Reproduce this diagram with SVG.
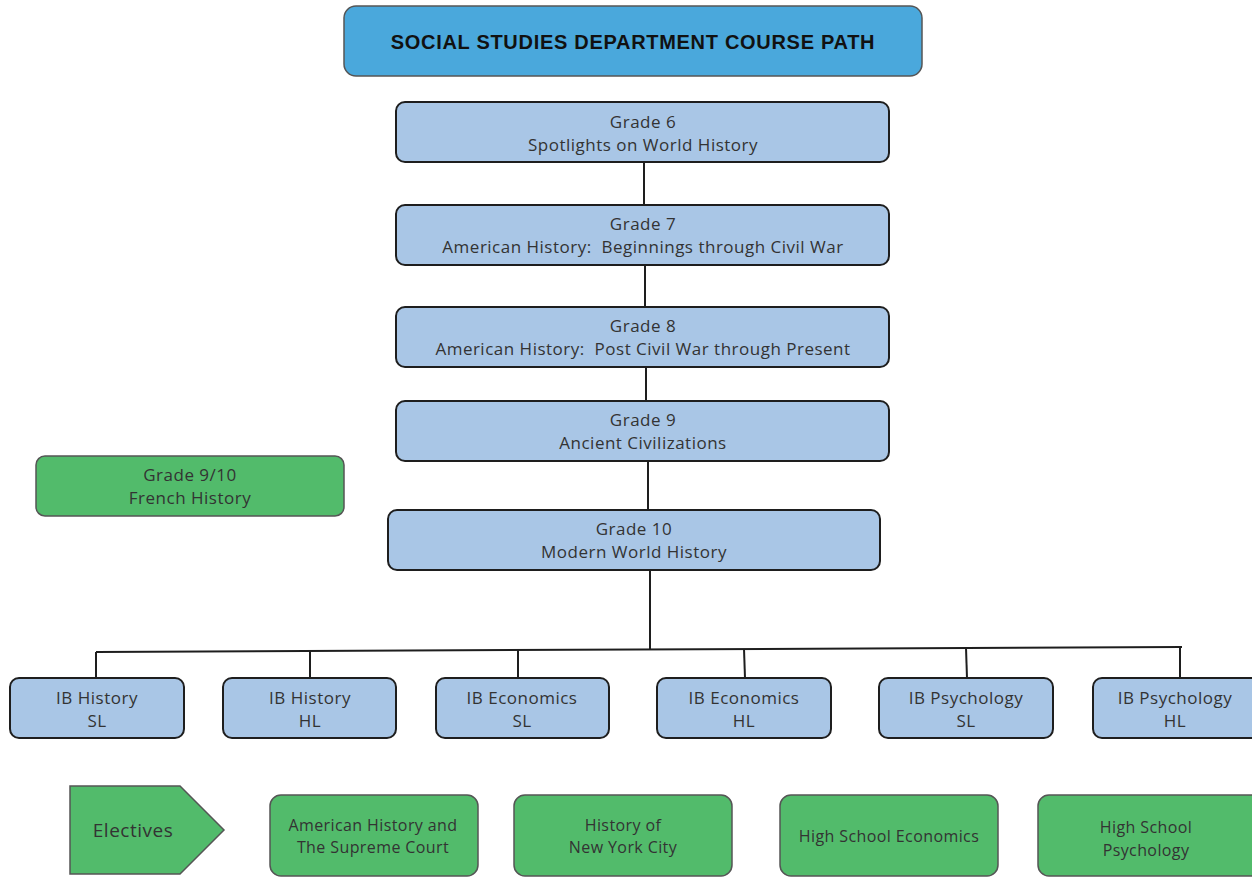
<svg xmlns="http://www.w3.org/2000/svg" width="1252" height="878" viewBox="0 0 1252 878">
<style>
.blue{fill:#a9c6e6;stroke:#1e1e1e;stroke-width:2}
.title{fill:#4aa8dc;stroke:#555;stroke-width:1.5}
.green{fill:#52bb6b;stroke:#555;stroke-width:1.5}
text{font-family:"Open Sans","Liberation Sans",sans-serif;font-size:17px;letter-spacing:0.5px;fill:#333;text-anchor:middle}
.t{font-family:"Liberation Sans",Arial,sans-serif;font-weight:bold;font-size:20px;letter-spacing:0.7px;fill:#111}
.sm{font-size:16px;letter-spacing:0.4px}
.el{font-size:19px;letter-spacing:0.5px}
.ln{stroke:#1e1e1e;stroke-width:2;fill:none}
</style>
<rect width="1252" height="878" fill="#fff"/>
<g id="connectors">
<line class="ln" x1="644" y1="162" x2="644" y2="205"/>
<line class="ln" x1="645" y1="265" x2="645" y2="307"/>
<line class="ln" x1="646" y1="367" x2="646" y2="401"/>
<line class="ln" x1="648" y1="461" x2="648" y2="510"/>
<line class="ln" x1="650" y1="570" x2="650" y2="649"/>
<line class="ln" x1="96" y1="652" x2="1182" y2="647"/>
<line class="ln" x1="96" y1="652" x2="96" y2="678"/>
<line class="ln" x1="310" y1="651" x2="310" y2="678"/>
<line class="ln" x1="518" y1="650" x2="518" y2="678"/>
<line class="ln" x1="744" y1="649" x2="745" y2="678"/>
<line class="ln" x1="966" y1="648" x2="967" y2="678"/>
<line class="ln" x1="1180" y1="647" x2="1180" y2="678"/>
</g>
<g id="title"><rect class="title" x="344" y="6" width="578" height="70" rx="12"/><text class="t" x="633" y="49">SOCIAL STUDIES DEPARTMENT COURSE PATH</text></g>
<g id="grade6"><rect class="blue" x="396" y="102" width="493" height="60" rx="9"/><text x="643" y="128">Grade 6</text><text x="643" y="151">Spotlights on World History</text></g>
<g id="grade7"><rect class="blue" x="396" y="205" width="493" height="60" rx="9"/><text x="643" y="230">Grade 7</text><text x="643" y="253" xml:space="preserve">American History:  Beginnings through Civil War</text></g>
<g id="grade8"><rect class="blue" x="396" y="307" width="493" height="60" rx="9"/><text x="643" y="332">Grade 8</text><text x="643" y="355" xml:space="preserve">American History:  Post Civil War through Present</text></g>
<g id="grade9"><rect class="blue" x="396" y="401" width="493" height="60" rx="9"/><text x="643" y="426">Grade 9</text><text x="643" y="449">Ancient Civilizations</text></g>
<g id="grade910"><rect class="green" x="36" y="456" width="308" height="60" rx="9"/><text x="190" y="481">Grade 9/10</text><text x="190" y="504">French History</text></g>
<g id="grade10"><rect class="blue" x="388" y="510" width="492" height="60" rx="9"/><text x="634" y="535">Grade 10</text><text x="634" y="558">Modern World History</text></g>
<g id="ibhsl"><rect class="blue" x="10" y="678" width="174" height="60" rx="9"/><text x="97" y="704">IB History</text><text x="97" y="727">SL</text></g>
<g id="ibhhl"><rect class="blue" x="223" y="678" width="173" height="60" rx="9"/><text x="310" y="704">IB History</text><text x="310" y="727">HL</text></g>
<g id="ibesl"><rect class="blue" x="436" y="678" width="173" height="60" rx="9"/><text x="522" y="704">IB Economics</text><text x="522" y="727">SL</text></g>
<g id="ibehl"><rect class="blue" x="657" y="678" width="174" height="60" rx="9"/><text x="744" y="704">IB Economics</text><text x="744" y="727">HL</text></g>
<g id="ibpsl"><rect class="blue" x="879" y="678" width="174" height="60" rx="9"/><text x="966" y="704">IB Psychology</text><text x="966" y="727">SL</text></g>
<g id="ibphl"><rect class="blue" x="1093" y="678" width="170" height="60" rx="9"/><text x="1175" y="704">IB Psychology</text><text x="1175" y="727">HL</text></g>
<g id="electives"><polygon class="green" points="70,786 180,786 224,830 180,874 70,874"/><text class="el" x="133" y="837">Electives</text></g>
<g id="e1"><rect class="green" x="270" y="795" width="208" height="81" rx="11"/><text class="sm" x="373" y="831">American History and</text><text class="sm" x="373" y="853">The Supreme Court</text></g>
<g id="e2"><rect class="green" x="514" y="795" width="218" height="81" rx="11"/><text class="sm" x="623" y="831">History of</text><text class="sm" x="623" y="853">New York City</text></g>
<g id="e3"><rect class="green" x="780" y="795" width="218" height="81" rx="11"/><text class="sm" x="889" y="842">High School Economics</text></g>
<g id="e4"><rect class="green" x="1038" y="795" width="225" height="81" rx="11"/><text class="sm" x="1146" y="833">High School</text><text class="sm" x="1146" y="856">Psychology</text></g>
</svg>
